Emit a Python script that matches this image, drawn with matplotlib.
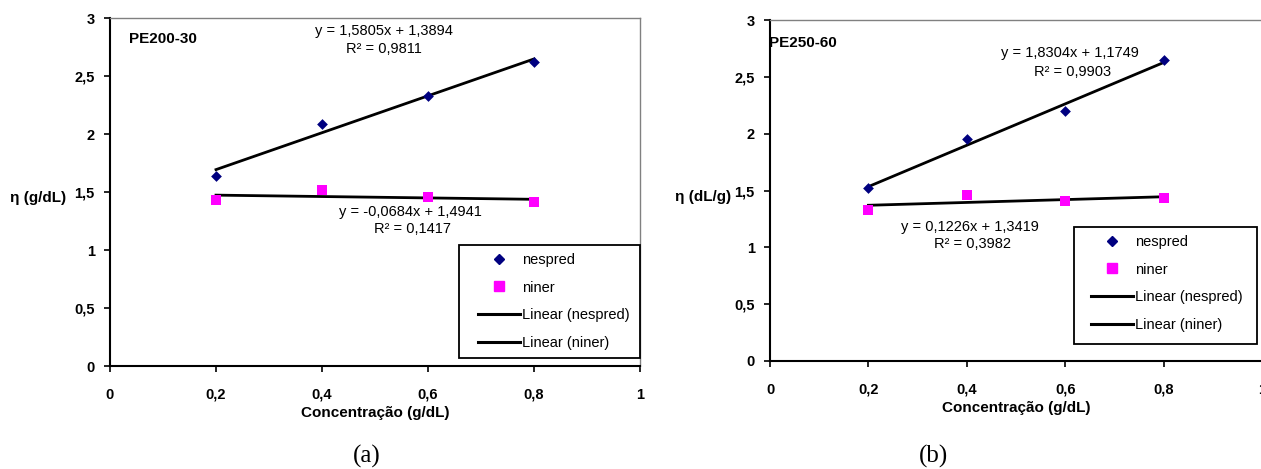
import numpy as np
import matplotlib
matplotlib.use("Agg")
import matplotlib.pyplot as plt
from matplotlib.lines import Line2D
from matplotlib.patches import Rectangle

plt.rcParams["font.family"] = ["Liberation Sans", "DejaVu Sans"]

conc = [0.2, 0.4, 0.6, 0.8]

# painel (a) PE200-30
nespred_a = [1.64, 2.09, 2.33, 2.62]
niner_a = [1.43, 1.52, 1.46, 1.41]
eq_a = ["y = 1,5805x + 1,3894", "y = -0,0684x + 1,4941"]
r2_a = ["R² = 0,9811", "R² = 0,1417"]

# painel (b) PE250-60
nespred_b = [1.52, 1.95, 2.20, 2.65]
niner_b = [1.33, 1.46, 1.41, 1.43]
eq_b = ["y = 1,8304x + 1,1749", "y = 0,1226x + 1,3419"]
r2_b = ["R² = 0,9903", "R² = 0,3982"]

xticks = [0, 0.2, 0.4, 0.6, 0.8, 1]
xtick_labels = ["0", "0,2", "0,4", "0,6", "0,8", "1"]
yticks = [0, 0.5, 1, 1.5, 2, 2.5, 3]
ytick_labels = ["0", "0,5", "1", "1,5", "2", "2,5", "3"]
legend_labels = ["nespred", "niner", "Linear (nespred)", "Linear (niner)"]

W, H = 1261, 469
fig = plt.figure(figsize=(W / 100, H / 100), dpi=100)


def fx(px):
    return px / W


def fy(py):
    return 1 - py / H


def px_axes(x0, x1, y_top, y_bot):
    return fig.add_axes([fx(x0), fy(y_bot), (x1 - x0) / W, (y_bot - y_top) / H])


def painel(ax, nesp, niner, eqs, r2s, eq_pos, r2_pos, nome, nome_pos, box, leg_anchor):
    x = np.array(conc)
    ax.scatter(conc, nesp, marker="D", s=30, color="#000080", lw=0, zorder=3)
    ax.scatter(conc, niner, marker="s", s=55, color="#FF00FF", lw=0, zorder=3)
    for ys in (nesp, niner):
        m, b = np.polyfit(x, ys, 1)
        ax.plot(x, m * x + b, color="black", lw=2, zorder=2)

    ax.set_xlim(0, 1)
    ax.set_ylim(0, 3)
    ax.set_xticks(xticks)
    ax.set_xticklabels(xtick_labels, fontweight="bold", fontsize=10.5)
    ax.set_yticks(yticks)
    ax.set_yticklabels(ytick_labels, fontweight="bold", fontsize=10.5)
    ax.tick_params(axis="x", direction="out", length=4, width=1.2, pad=11.5)
    ax.tick_params(axis="y", direction="out", length=4, width=1.2, pad=7)
    for s in ("left", "bottom"):
        ax.spines[s].set_linewidth(1.5)
    for s in ("top", "right"):
        ax.spines[s].set_color("#808080")
        ax.spines[s].set_linewidth(1)
    ax.set_xlabel("Concentração (g/dL)", fontweight="bold", fontsize=11, labelpad=3)

    for txt, (tx, ty) in zip(eqs, eq_pos):
        ax.text(tx, ty, txt, ha="center", va="center", fontsize=10.5)
    for txt, (tx, ty) in zip(r2s, r2_pos):
        ax.text(tx, ty, txt, ha="center", va="center", fontsize=10.5)
    ax.text(nome_pos[0], nome_pos[1], nome, ha="left", va="center",
            fontweight="bold", fontsize=11)

    # caixa da legenda
    bx0, by0, bx1, by1 = box
    fig.patches.append(Rectangle((fx(bx0), fy(by1)), (bx1 - bx0) / W, (by1 - by0) / H,
                                 transform=fig.transFigure, fill=True, facecolor="white",
                                 edgecolor="black", lw=1.3, zorder=5))
    handles = [
        Line2D([], [], ls="none", marker="D", ms=5.5, color="#000080"),
        Line2D([], [], ls="none", marker="s", ms=7, color="#FF00FF"),
        Line2D([], [], color="black", lw=2.2),
        Line2D([], [], color="black", lw=2.2),
    ]
    leg = fig.legend(handles, legend_labels, loc="upper left",
                     bbox_to_anchor=(fx(leg_anchor[0]), fy(leg_anchor[1])),
                     fontsize=10.5, frameon=False, borderpad=0, borderaxespad=0,
                     labelspacing=0.93, handlelength=2.85, handletextpad=0.15)
    leg.set_zorder(6)


ax1 = px_axes(110, 640, 18, 366)
painel(ax1, nespred_a, niner_a, eq_a, r2_a,
       [(0.517, 2.885), (0.566, 1.325)], [(0.517, 2.73), (0.570, 1.185)],
       "PE200-30", (0.036, 2.82),
       (459, 245, 640, 358), (478, 253))

ax2 = px_axes(770, 1262, 20, 361)
painel(ax2, nespred_b, niner_b, eq_b, r2_b,
       [(0.610, 2.71), (0.407, 1.175)], [(0.614, 2.54), (0.411, 1.03)],
       "PE250-60", (-0.002, 2.80),
       (1074, 227, 1257, 344), (1091, 235))

fig.text(fx(38), fy(198), "η (g/dL)", ha="center", va="center",
         fontweight="bold", fontsize=11)
fig.text(fx(703), fy(197), "η (dL/g)", ha="center", va="center",
         fontweight="bold", fontsize=11)

fig.text(fx(367), fy(456), "(a)", ha="center", va="center",
         family=["Liberation Serif"], fontsize=18)
fig.text(fx(934), fy(456), "(b)", ha="center", va="center",
         family=["Liberation Serif"], fontsize=18)

fig.savefig("out.png", dpi=100)
